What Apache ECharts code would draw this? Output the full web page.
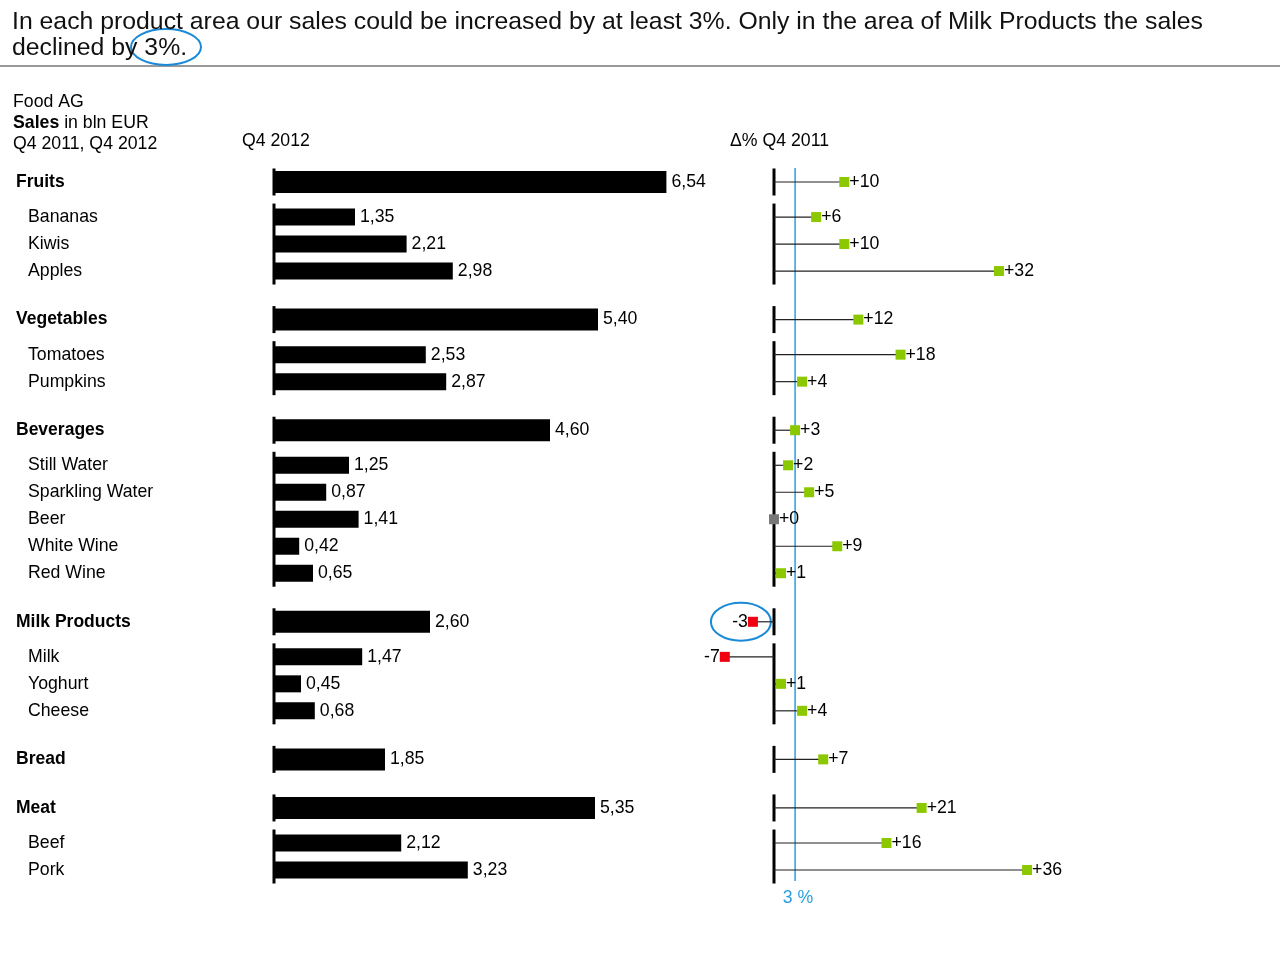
<!DOCTYPE html>
<html>
<head>
<meta charset="utf-8">
<script src="https://cdn.jsdelivr.net/npm/echarts@6/dist/echarts.min.js"></script>
<style>
  html, body { margin: 0; padding: 0; background: #fff; }
  #main { width: 1280px; height: 960px; }
</style>
</head>
<body>
<div id="main"></div>
<script>
// --- data -------------------------------------------------------------
var groups = ['Fruits', 'Vegetables', 'Beverages', 'Milk Products', 'Bread', 'Meat'];
var groupSales = [6.54, 5.40, 4.60, 2.60, 1.85, 5.35];
var groupDelta = [10, 12, 3, -3, 7, 21];

var items = [
    ['Bananas', 'Kiwis', 'Apples'],
    ['Tomatoes', 'Pumpkins'],
    ['Still Water', 'Sparkling Water', 'Beer', 'White Wine', 'Red Wine'],
    ['Milk', 'Yoghurt', 'Cheese'],
    [],
    ['Beef', 'Pork']
];
var itemSales = [[1.35, 2.21, 2.98], [2.53, 2.87], [1.25, 0.87, 1.41, 0.42, 0.65], [1.47, 0.45, 0.68], [], [2.12, 3.23]];
var itemDelta = [[6, 10, 32], [18, 4], [2, 5, 0, 9, 1], [-7, 1, 4], [], [16, 36]];

var target = 3;

// --- rows / slots (category slots give the uneven spacing) -------------
var FONT = '"Liberation Sans", Arial, sans-serif';
var FS = 17.7;
var GREEN = '#8cc800', RED = '#ee0010', GRAY = '#777777', BLUE = '#2a9fe0';
var GAP_GROUP = 18, GAP_HEAD = 13, GAP_ITEM = 10;   // in slots

var rows = [], segs = [], slot = -GAP_GROUP, heads = {};
groups.forEach(function (g, i) {
    slot += GAP_GROUP;
    heads[g] = true;
    rows.push({ name: g, head: 1, sales: groupSales[i], delta: groupDelta[i], slot: slot });
    segs.push([slot, slot]);
    var first = -1;
    items[i].forEach(function (n, j) {
        slot += j === 0 ? GAP_HEAD : GAP_ITEM;
        if (first < 0) first = slot;
        rows.push({ name: n, head: 0, sales: itemSales[i][j], delta: itemDelta[i][j], slot: slot });
    });
    if (first >= 0) segs.push([first, slot]);
});
var slots = [];
for (var k = 0; k <= slot; k++) slots.push('gap' + k);
rows.forEach(function (r) { slots[r.slot] = r.name; });

function comma(v) { return v.toFixed(2).replace('.', ','); }

function renderBar(params, api) {
    var v = api.value(0), s = api.value(1), hd = api.value(2);
    var p0 = api.coord([0, s]), p1 = api.coord([v, s]);
    var h = hd ? 22 : 17;
    return {
        type: 'group',
        children: [{
            type: 'rect',
            shape: { x: p0[0], y: p0[1] - h / 2, width: p1[0] - p0[0], height: h },
            style: { fill: '#000' }
        }, {
            type: 'text',
            x: p1[0] + 5, y: p1[1],
            style: { text: comma(v), fill: '#000', font: FS + 'px ' + FONT, align: 'left', verticalAlign: 'middle' }
        }]
    };
}

function renderSeg(params, api) {
    var a = api.coord([0, api.value(0)]), b = api.coord([0, api.value(1)]);
    return {
        type: 'line',
        shape: { x1: a[0], y1: a[1] - 13.5, x2: b[0], y2: b[1] + 13.5 },
        style: { stroke: '#000', lineWidth: 3 }
    };
}

function renderPin(params, api) {
    var d = api.value(0), s = api.value(1);
    var p0 = api.coord([0, s]), p = api.coord([d, s]);
    var col = d > 0 ? GREEN : (d < 0 ? RED : GRAY);
    var txt = (d >= 0 ? '+' : '') + d;
    return {
        type: 'group',
        children: [{
            type: 'line',
            shape: { x1: p0[0], y1: p0[1], x2: p[0], y2: p[1] },
            style: { stroke: '#222', lineWidth: 1.2 }
        }, {
            type: 'rect',
            shape: { x: p[0] - 5, y: p[1] - 5, width: 10, height: 10 },
            style: { fill: col }
        }, {
            type: 'text',
            x: d < 0 ? p[0] - 5 : p[0] + 5, y: p[1],
            style: { text: txt, fill: '#000', font: FS + 'px ' + FONT, align: d < 0 ? 'right' : 'left', verticalAlign: 'middle' }
        }]
    };
}

function renderTarget(params, api) {
    var t = api.value(0);
    var a = api.coord([t, 0]), b = api.coord([t, slots.length - 1]);
    return {
        type: 'group',
        children: [{
            type: 'line',
            shape: { x1: a[0], y1: a[1] - 14, x2: b[0], y2: b[1] + 11 },
            style: { stroke: BLUE, lineWidth: 1.5 }
        }, {
            type: 'text',
            x: b[0] + 3, y: b[1] + 28,
            style: { text: t + ' %', fill: BLUE, font: FS + 'px ' + FONT, align: 'center', verticalAlign: 'middle' }
        }]
    };
}

var chart = echarts.init(document.getElementById('main'));

var option = {
    animation: false,
    textStyle: { fontFamily: FONT },
    title: [{
        text: 'In each product area our sales could be increased by at least 3%. Only in the area of Milk Products the sales\ndeclined by 3%.',
        left: 7, top: 4,
        textStyle: { fontSize: 24.8, fontWeight: 'normal', color: '#111', lineHeight: 26, fontFamily: FONT }
    }, {
        text: 'Food AG\n{b|Sales} in bln EUR\nQ4 2011, Q4 2012',
        left: 8, top: 87,
        textStyle: {
            fontSize: FS, fontWeight: 'normal', color: '#000', lineHeight: 21, fontFamily: FONT,
            rich: { b: { fontSize: FS, fontWeight: 'bold', color: '#000', lineHeight: 21, fontFamily: FONT } }
        }
    }, {
        text: 'Q4 2012',
        left: 237, top: 127,
        textStyle: { fontSize: FS, fontWeight: 'normal', color: '#000', fontFamily: FONT }
    }, {
        text: '\u0394% Q4 2011',
        left: 725, top: 127,
        textStyle: { fontSize: FS, fontWeight: 'normal', color: '#000', fontFamily: FONT }
    }],
    graphic: [{
        type: 'line',
        shape: { x1: 0, y1: 66, x2: 1280, y2: 66 },
        style: { stroke: '#777', lineWidth: 1.5 }
    }, {
        type: 'ellipse',
        shape: { cx: 166, cy: 47, rx: 35, ry: 18 },
        style: { fill: 'none', stroke: '#1a8ad8', lineWidth: 2 }
    }],
    grid: [
        { left: 274, top: 180.65, width: 420, height: 690.7 },
        { left: 703.7, top: 180.65, width: 351.5, height: 690.7 }
    ],
    xAxis: [
        { type: 'value', gridIndex: 0, min: 0, max: 7, show: false },
        { type: 'value', gridIndex: 1, min: -10, max: 40, show: false }
    ],
    yAxis: [{
        type: 'category', gridIndex: 0, data: slots, inverse: true,
        axisLine: { show: false }, axisTick: { show: false }, splitLine: { show: false },
        axisLabel: {
            interval: 0, align: 'left', margin: 258, color: '#000', fontSize: FS,
            formatter: function (v) {
                if (v.indexOf('gap') === 0) return '';
                return heads[v] ? '{h|' + v + '}' : '{c|' + v + '}';
            },
            rich: {
                h: { fontSize: 17.5, fontWeight: 'bold', color: '#000', fontFamily: FONT },
                c: { fontSize: FS, color: '#000', fontFamily: FONT, padding: [0, 0, 0, 12] }
            }
        }
    }, {
        type: 'category', gridIndex: 1, data: slots, inverse: true, show: false
    }],
    series: [{
        type: 'custom', name: 'sales', xAxisIndex: 0, yAxisIndex: 0,
        renderItem: renderBar,
        data: rows.map(function (r) { return [r.sales, r.slot, r.head]; })
    }, {
        type: 'custom', name: 'axis left', xAxisIndex: 0, yAxisIndex: 0, z: 3,
        renderItem: renderSeg,
        data: segs
    }, {
        type: 'custom', name: 'target', xAxisIndex: 1, yAxisIndex: 1, z: 2,
        renderItem: renderTarget,
        data: [[target, 0]]
    }, {
        type: 'custom', name: 'axis right', xAxisIndex: 1, yAxisIndex: 1, z: 3,
        renderItem: renderSeg,
        data: segs
    }, {
        type: 'custom', name: 'delta', xAxisIndex: 1, yAxisIndex: 1, z: 4,
        renderItem: renderPin,
        data: rows.map(function (r) { return [r.delta, r.slot]; })
    }]
};

chart.setOption(option);

// circle the one declining group
var milkRow = rows.filter(function (r) { return r.name === 'Milk Products'; })[0];
var pt = chart.convertToPixel({ xAxisIndex: 1, yAxisIndex: 1 }, [milkRow.delta, milkRow.slot]);
chart.setOption({
    graphic: [{}, {}, {
        type: 'ellipse',
        shape: { cx: pt[0] - 12, cy: pt[1], rx: 30, ry: 19 },
        style: { fill: 'none', stroke: '#1a8ad8', lineWidth: 2 }
    }]
});
</script>
</body>
</html>
